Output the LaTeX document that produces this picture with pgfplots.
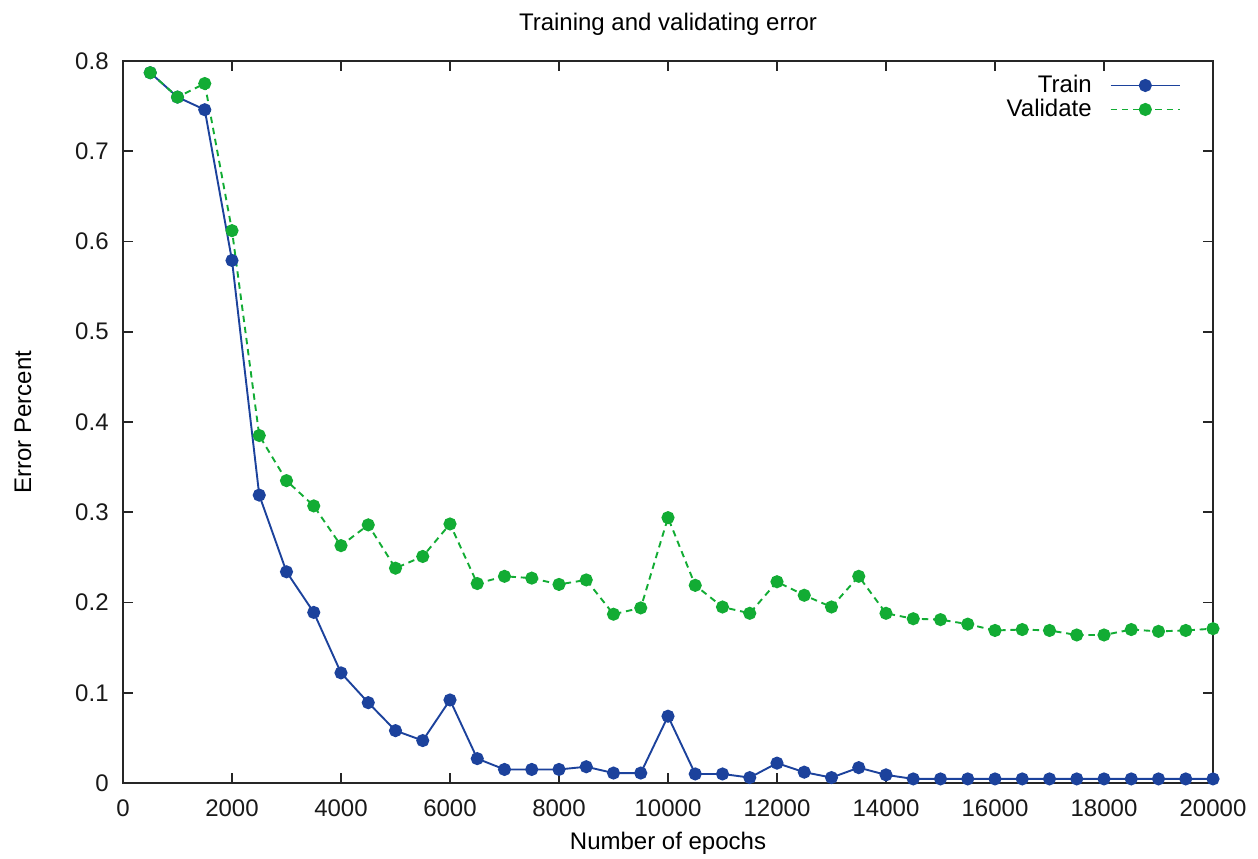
\documentclass[border=0pt]{standalone}
\usepackage{fontspec}
\setmainfont{Liberation Sans}
\usepackage{pgfplots}
\pgfplotsset{compat=1.18}
\definecolor{trainblue}{RGB}{28,66,156}
\definecolor{valgreen}{RGB}{18,172,52}
\begin{document}
\fontsize{12}{14}\selectfont
\begin{tikzpicture}
\begin{axis}[
  scale only axis,
  width=545pt, height=361pt,
  xmin=0, xmax=20000, ymin=0, ymax=0.8,
  xtick={0,2000,...,20000},
  ytick={0,0.1,...,0.8},
  yticklabel style={/pgf/number format/fixed,/pgf/number format/precision=1},
  scaled x ticks=false,
  xticklabel style={/pgf/number format/set thousands separator={}},
  /pgf/number format/assume math mode=true,
  tick align=inside,
  major tick length=5pt,
  axis line style={line width=0.9pt, black!85},
  every tick/.style={line width=0.8pt, black!85},
  tick label style={font=\fontsize{12}{14}\selectfont, text=black!90},
  xticklabel shift=4pt,
  yticklabel shift=3pt,
  title={Training and validating error},
  title style={font=\fontsize{12}{14}\selectfont, at={(axis description cs:0.5,1.0346)}, anchor=center, inner sep=0pt},
  xlabel={Number of epochs},
  ylabel={Error Percent},
  label style={font=\fontsize{12}{14}\selectfont, inner sep=0pt},
  xlabel style={at={(axis description cs:0.5,-0.0831)}, anchor=center},
  ylabel style={at={(axis description cs:-0.0917,0.5)}, anchor=center},
  legend style={draw=none, fill=none, at={(1,1)}, anchor=north east,
    xshift=-16pt, yshift=-5pt, inner sep=0pt, outer sep=0pt,
    font=\fontsize{12}{14}\selectfont, row sep=-2.5pt, column sep=7pt},
  legend cell align=right,
  legend plot pos=right,
  legend image code/.code={\draw[mark repeat=2,mark phase=2] plot coordinates {(0cm,0cm) (0.61cm,0cm) (1.22cm,0cm)};},
]
\addplot[color=trainblue, line width=0.95pt, mark=*, mark size=2.8pt, mark options={solid, fill=trainblue, draw=trainblue}] coordinates {
(500,0.787) (1000,0.760) (1500,0.746) (2000,0.579) (2500,0.319) (3000,0.234)
(3500,0.189) (4000,0.122) (4500,0.089) (5000,0.058) (5500,0.047) (6000,0.092)
(6500,0.027) (7000,0.015) (7500,0.015) (8000,0.015) (8500,0.018) (9000,0.011)
(9500,0.011) (10000,0.074) (10500,0.010) (11000,0.010) (11500,0.006) (12000,0.022)
(12500,0.012) (13000,0.006) (13500,0.017) (14000,0.009) (14500,0.0045) (15000,0.0045)
(15500,0.0045) (16000,0.0045) (16500,0.0045) (17000,0.0045) (17500,0.0045) (18000,0.0045)
(18500,0.0045) (19000,0.0045) (19500,0.0045) (20000,0.0045)
};
\addlegendentry{Train}
\addplot[color=valgreen, line width=0.95pt, dash pattern=on 3.2pt off 2.4pt, mark=*, mark size=2.8pt, mark options={solid, fill=valgreen, draw=valgreen}] coordinates {
(500,0.787) (1000,0.760) (1500,0.775) (2000,0.612) (2500,0.385) (3000,0.335)
(3500,0.307) (4000,0.263) (4500,0.286) (5000,0.238) (5500,0.251) (6000,0.287)
(6500,0.221) (7000,0.229) (7500,0.227) (8000,0.220) (8500,0.225) (9000,0.187)
(9500,0.194) (10000,0.294) (10500,0.219) (11000,0.195) (11500,0.188) (12000,0.223)
(12500,0.208) (13000,0.195) (13500,0.229) (14000,0.188) (14500,0.182) (15000,0.181)
(15500,0.176) (16000,0.169) (16500,0.170) (17000,0.169) (17500,0.164) (18000,0.164)
(18500,0.170) (19000,0.168) (19500,0.169) (20000,0.171)
};
\addlegendentry{Validate}
\end{axis}
\path (current axis.south west) ++(-61.5pt,-38pt) coordinate (bbA);
\path (current axis.north east) ++(22.5pt,30.5pt) coordinate (bbB);
\path (bbA) rectangle (bbB);
\end{tikzpicture}
\end{document}
